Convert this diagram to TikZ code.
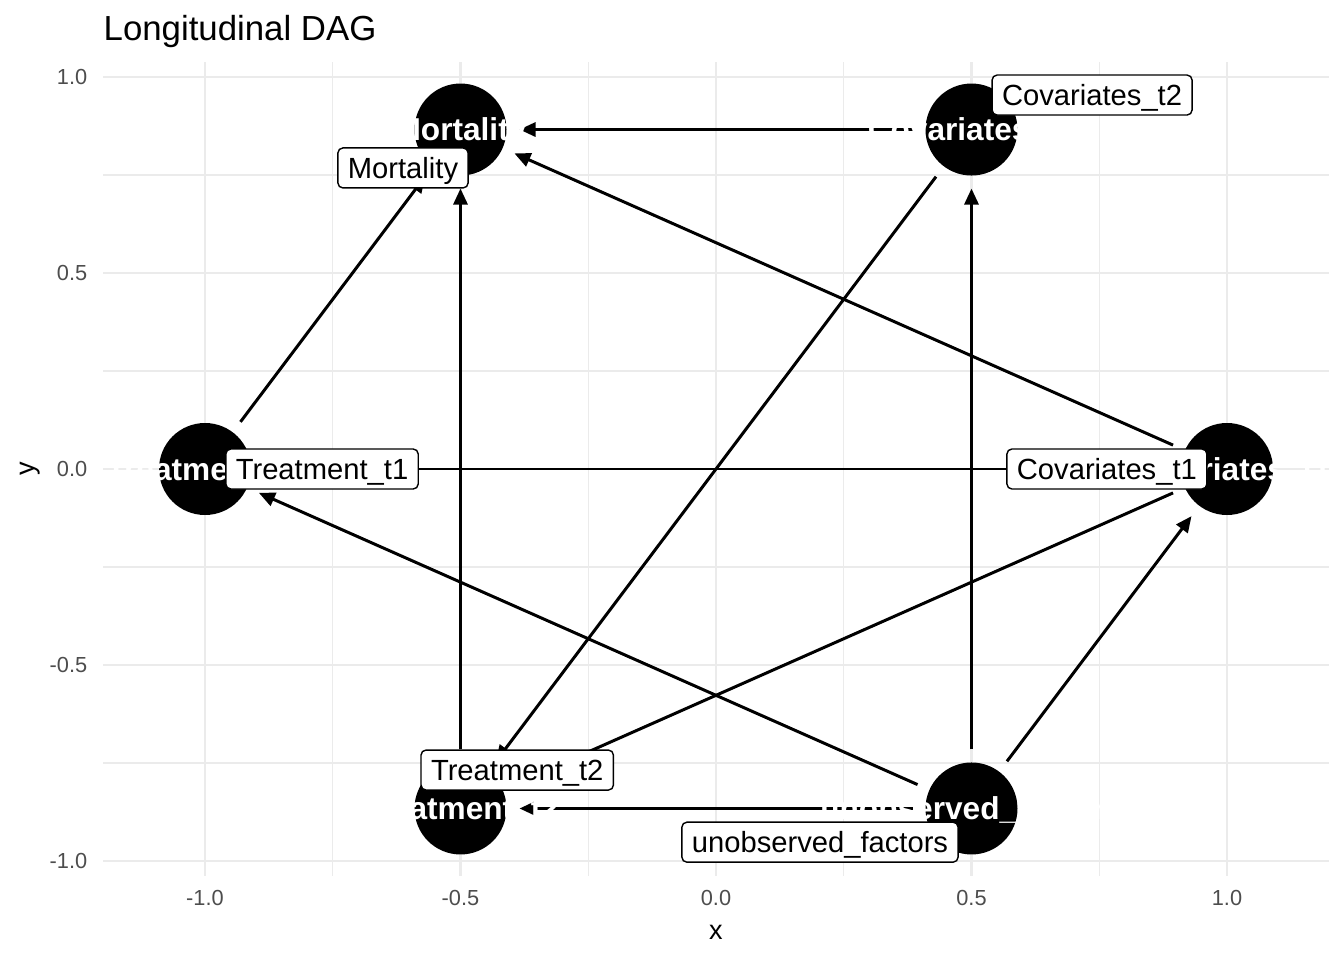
\documentclass[tikz,border=0pt]{standalone}
\usepackage{fontspec}
\setmainfont{Liberation Sans}
\usetikzlibrary{arrows.meta,backgrounds}
\definecolor{gray92}{HTML}{EBEBEB}
\definecolor{gray30}{HTML}{4D4D4D}
\tikzset{
  >={Triangle[length=1.6mm,width=1.4mm]},
  gmajor/.style={line width=0.75pt,gray92},
  gminor/.style={line width=0.4pt,gray92},
  ticklbl/.style={font=\fontsize{6.2}{7}\selectfont,text=gray30,inner sep=0pt},
  axtitle/.style={font=\fontsize{7.7}{9}\selectfont,inner sep=0pt},
  dagnode/.style={circle,fill=black,minimum size=9.2mm,inner sep=0pt,outer sep=0pt},
  dagtext/.style={text=white,font=\fontsize{9}{10}\selectfont\bfseries,
    inner sep=0pt,text height=6.4pt,text depth=0pt},
  daglabel/.style={draw=black,fill=white,rounded corners=0.5mm,line width=0.4pt,
    font=\fontsize{8.3}{10}\selectfont,inner xsep=1mm,inner ysep=0pt,
    minimum height=4mm,text height=6pt,text depth=0pt},
  dagedge/.style={->,line width=0.85pt,shorten >=1.3mm,shorten <=1.3mm},
}
\begin{document}
\begin{tikzpicture}
  \useasboundingbox (0,0) rectangle (13.44,9.6);
  \node[anchor=base west,inner sep=0pt,font=\fontsize{9.9}{12}\selectfont]
    (title) at (1.03,9.20) {Longitudinal DAG};
  \begin{scope}[shift={(7.16,4.91)},x=5.11cm,y=3.92cm]
    % panel grid
    \begin{scope}[on background layer]
      \foreach \v in {-0.75,-0.25,0.25,0.75} {
        \draw[gminor] (\v,-1.038) -- (\v,1.038);
        \draw[gminor] (-1.2,\v) -- (1.2,\v);
      }
      \foreach \v in {-1,-0.5,0,0.5,1} {
        \draw[gmajor] (\v,-1.038) -- (\v,1.038);
        \draw[gmajor] (-1.2,\v) -- (1.2,\v);
      }
    \end{scope}
    % axes
    \foreach \v/\t [count=\i] in {-1/-1.0,-0.5/-0.5,0/0.0,0.5/0.5,1/1.0} {
      \node[ticklbl] (xt\i) at (\v,-1.094) {\t};
      \node[ticklbl,anchor=east] (yt\i) at (-1.229,\v) {\t};
    }
    \node[axtitle] (xlab) at (0,-1.181) {x};
    \node[axtitle,rotate=90] (ylab) at (-1.342,0) {y};
    % nodes
    \node[dagnode] (mort) at (-0.5,0.866) {};
    \node[dagnode] (cov2) at (0.5,0.866) {};
    \node[dagnode] (trt1) at (-1,0) {};
    \node[dagnode] (cov1) at (1,0) {};
    \node[dagnode] (trt2) at (-0.5,-0.866) {};
    \node[dagnode] (unobs) at (0.5,-0.866) {};
    \begin{scope}[on background layer]
      \draw[dagedge] (trt1) -- (mort);
      \draw[dagedge] (cov2) -- (mort);
      \draw[dagedge] (cov1) -- (mort);
      \draw[dagedge] (trt2) -- (mort);
      \draw[dagedge] (unobs) -- (cov2);
      \draw[dagedge] (cov2) -- (trt2);
      \draw[dagedge] (cov1) -- (trt1);
      \draw[dagedge] (unobs) -- (cov1);
      \draw[dagedge] (unobs) -- (trt1);
      \draw[dagedge] (cov1) -- (trt2);
      \draw[dagedge] (unobs) -- (trt2);
    \end{scope}
    \node[dagtext] (mort-t) at (mort) {Mortality};
    \node[dagtext] (cov2-t) at (cov2) {Covariates\_t2};
    \node[dagtext] (trt1-t) at (trt1) {Treatment\_t1};
    \node[dagtext] (cov1-t) at (cov1) {Covariates\_t1};
    \node[dagtext] (trt2-t) at (trt2) {Treatment\_t2};
    \node[dagtext] (unobs-t) at (unobs) {unobserved\_factors};
    % repelled labels
    \node[daglabel] (mort-l) at (-0.6125,0.768) {Mortality};
    \node[daglabel] (cov2-l) at (0.736,0.954) {Covariates\_t2};
    \node[daglabel] (trt1-l) at (-0.771,0) {Treatment\_t1};
    \node[daglabel] (cov1-l) at (0.765,0) {Covariates\_t1};
    \node[daglabel] (trt2-l) at (-0.389,-0.768) {Treatment\_t2};
    \node[daglabel] (unobs-l) at (0.2035,-0.952) {unobserved\_factors};
  \end{scope}
\end{tikzpicture}
\end{document}
